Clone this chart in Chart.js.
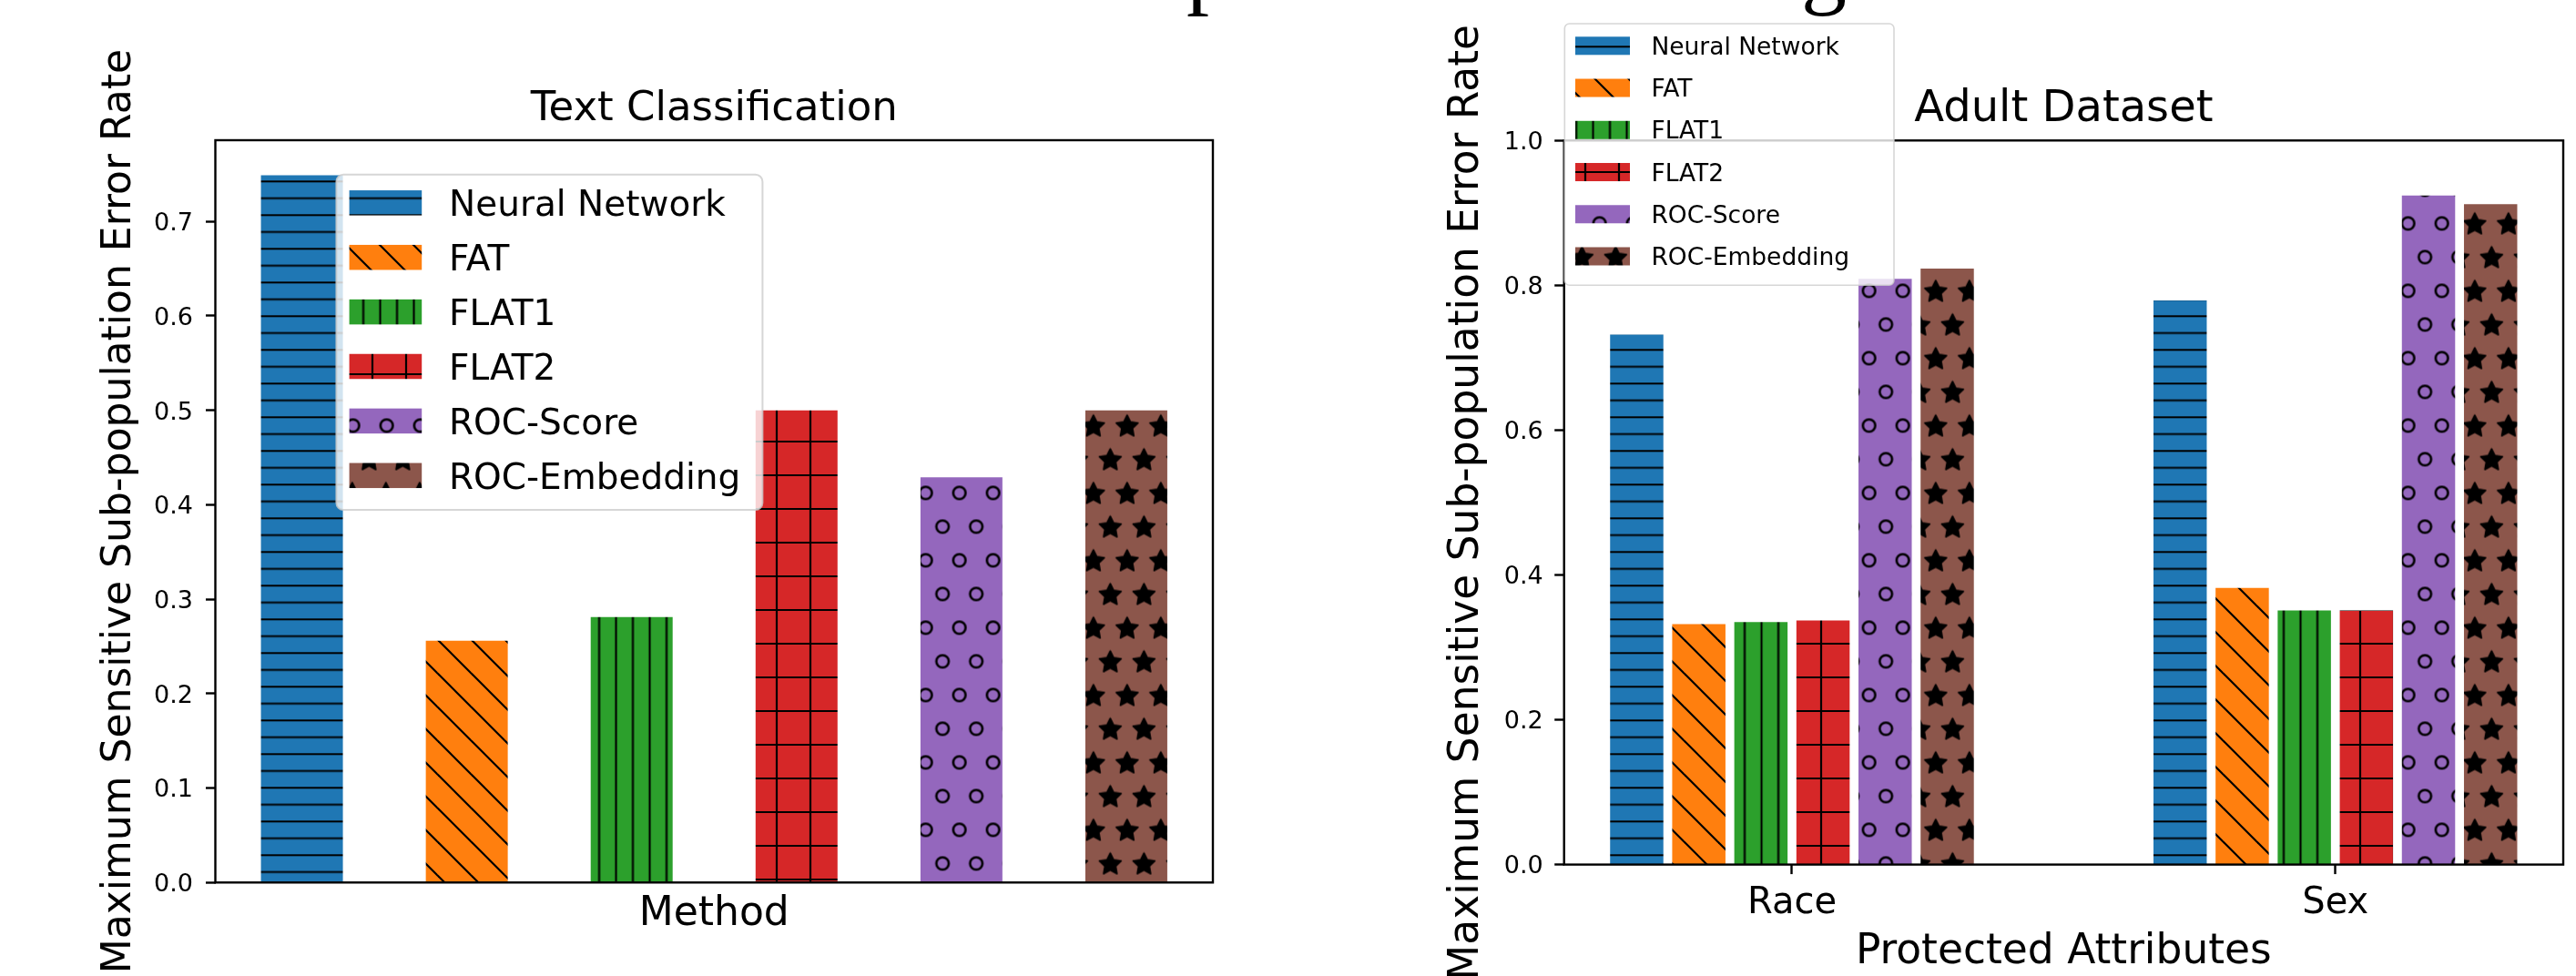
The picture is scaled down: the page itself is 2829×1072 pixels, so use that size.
<!DOCTYPE html>
<html><head><meta charset="utf-8">
<script src="https://cdn.jsdelivr.net/npm/chart.js@4.4.1/dist/chart.umd.min.js"></script>
<style>
html,body{margin:0;padding:0;background:#fff;width:2829px;height:1072px;overflow:hidden;position:relative;}
#c1{position:absolute;left:0;top:0;}
#c2{position:absolute;left:1420px;top:0;}
.cap{position:absolute;font-family:'Liberation Serif',serif;font-size:100px;line-height:100px;color:#000;top:-86px;}
</style></head><body>
<div class="cap" style="left:1303px">p</div>
<div class="cap" style="left:1978px">g</div>
<canvas id="c1" width="1420" height="1072"></canvas>
<canvas id="c2" width="1409" height="1072"></canvas>
<script>
// ---------- data ----------
const methods = ['Neural Network', 'FAT', 'FLAT1', 'FLAT2', 'ROC-Score', 'ROC-Embedding'];
const textErrorRates = [0.749, 0.256, 0.281, 0.500, 0.429, 0.500];
const attributes = ['Race', 'Sex'];
const adultRace = [0.732, 0.332, 0.335, 0.337, 0.809, 0.823];
const adultSex  = [0.779, 0.382, 0.351, 0.351, 0.924, 0.912];
const textYTicks = [0.0, 0.1, 0.2, 0.3, 0.4, 0.5, 0.6, 0.7];
const adultYTicks = [0.0, 0.2, 0.4, 0.6, 0.8, 1.0];

// ---------- styles ----------
const barColors = ['#1f77b4', '#ff7f0e', '#2ca02c', '#d62728', '#9467bd', '#8c564b'];
const hatchStyles = ['-', '\\', '|', '+', 'o', '*'];
const hatchPhase = {'-': [0, 14.3], '\\': [0, 0], '|': [10.5, 0], '+': [2, 4], 'o': [17.6, 23.4], '*': [16.8, 24.5]};

Chart.defaults.font.family = "'DejaVu Sans'";
Chart.defaults.color = '#000';

// distance from the 'middle' text line down to the alphabetic baseline
const mctx = document.createElement('canvas').getContext('2d');
function midToBase(size) {
  mctx.font = size + "px 'DejaVu Sans'";
  mctx.textBaseline = 'middle';
  return mctx.measureText('H').actualBoundingBoxDescent;
}
const CAP = 0.729;

function starPath(t, cx, cy, R, r) {
  t.beginPath();
  for (let k = 0; k < 10; k++) {
    const a = -Math.PI / 2 + k * Math.PI / 5;
    const rr = k % 2 === 0 ? R : r;
    const px = cx + rr * Math.cos(a), py = cy + rr * Math.sin(a);
    if (k === 0) t.moveTo(px, py); else t.lineTo(px, py);
  }
  t.closePath();
}

function makePattern(ctx, color, hatch, canvasOffsetX) {
  const T = 37;
  const w = T, h = (hatch === 'o' || hatch === '*') ? 2 * T : T;
  const tile = document.createElement('canvas');
  tile.width = w; tile.height = h;
  const t = tile.getContext('2d');
  t.fillStyle = color; t.fillRect(0, 0, w, h);
  t.strokeStyle = '#000'; t.fillStyle = '#000'; t.lineWidth = 2.2;
  const line = (x1, y1, x2, y2) => { t.beginPath(); t.moveTo(x1, y1); t.lineTo(x2, y2); t.stroke(); };
  if (hatch === '-') { [0, 18.5, 37].forEach(y => line(0, y, w, y)); }
  if (hatch === '|') { [0, 18.5, 37].forEach(x => line(x, 0, x, h)); }
  if (hatch === '+') { [0, 37].forEach(v => { line(0, v, w, v); line(v, 0, v, h); }); }
  if (hatch === '\\') { [-1, 0, 1].forEach(k => line(k * T - 3, -3, k * T + T + 3, T + 3)); }
  const centers = [[0, 0], [T, 0], [0, 2 * T], [T, 2 * T], [T / 2, T]];
  if (hatch === 'o') {
    t.lineWidth = 2.6;
    centers.forEach(([cx, cy]) => { t.beginPath(); t.arc(cx, cy, 6.8, 0, Math.PI * 2); t.stroke(); });
  }
  if (hatch === '*') {
    t.lineWidth = 1.6; t.lineJoin = 'round';
    centers.forEach(([cx, cy]) => { starPath(t, cx, cy, 12.6, 6.3); t.fill(); t.stroke(); });
  }
  const p = ctx.createPattern(tile, 'repeat');
  const ph = hatchPhase[hatch];
  p.setTransform(new DOMMatrix([1, 0, 0, 1, ph[0] - canvasOffsetX, ph[1]]));
  return p;
}

const framePlugin = {
  id: 'axesFrame',
  afterDatasetsDraw(chart) {
    const {ctx, chartArea: a} = chart;
    ctx.save();
    ctx.strokeStyle = '#000'; ctx.lineWidth = 2.4;
    ctx.strokeRect(a.left, a.top, a.right - a.left, a.bottom - a.top);
    ctx.restore();
  }
};

const legendPlugin = {
  id: 'hatchLegend',
  afterDraw(chart, args, o) {
    const ctx = chart.ctx;
    ctx.save();
    ctx.beginPath();
    ctx.roundRect(o.x, o.y, o.w, o.h, o.r);
    ctx.fillStyle = 'rgba(255,255,255,0.8)'; ctx.fill();
    ctx.lineWidth = o.lw; ctx.strokeStyle = 'rgba(204,204,204,0.8)'; ctx.stroke();
    ctx.font = o.fs + "px 'DejaVu Sans'";
    ctx.textBaseline = 'alphabetic'; ctx.textAlign = 'left';
    chart.data.datasets.forEach((ds, i) => {
      const cy = o.firstY + i * o.stepY;
      ctx.fillStyle = ds.backgroundColor;
      ctx.fillRect(o.hx, cy - o.hh / 2, o.hw, o.hh);
      ctx.fillStyle = '#000';
      ctx.fillText(ds.label, o.tx, cy + CAP * o.fs / 2);
    });
    ctx.restore();
  }
};

// ---------- left chart: Text Classification ----------
const L = {
  titleTop: 131.9 - midToBase(45) - 27,
  yTitlePad: 142.8 - midToBase(44) - 26.4,
  xTitlePad: 1072 - (1015.8 - midToBase(44)) - 26.4,
  tickOff: CAP * 27 / 2 - midToBase(27)
};
const ctx1 = document.getElementById('c1').getContext('2d');
const pats1 = hatchStyles.map((hs, i) => makePattern(ctx1, barColors[i], hs, 0));
new Chart(ctx1, {
  type: 'bar',
  data: {
    datasets: methods.map((m, i) => ({
      label: m,
      data: [{x: i, y: textErrorRates[i]}],
      backgroundColor: pats1[i],
      borderWidth: 0,
      grouped: false,
      categoryPercentage: 1.0,
      barPercentage: 0.497
    }))
  },
  options: {
    responsive: false, animation: false, events: [],
    layout: {padding: {left: 0, right: 88, top: 0, bottom: 0}},
    plugins: {
      legend: {display: false}, tooltip: {enabled: false},
      title: {display: true, fullSize: false, text: 'Text Classification', color: '#000',
              font: {size: 45, weight: 'normal'}, padding: {top: L.titleTop, bottom: 154 - L.titleTop - 54}},
      hatchLegend: {x: 369.4, y: 191.7, w: 468, h: 368.3, r: 7.8, lw: 2,
                    hx: 383.6, hw: 79.6, hh: 27.5, firstY: 222.8, stepY: 59.9, tx: 493, fs: 39}
    },
    scales: {
      x: {
        type: 'linear', min: -0.525, max: 5.525, offset: false,
        afterBuildTicks: ax => { ax.ticks = methods.map((_, i) => ({value: i})); },
        ticks: {display: false},
        grid: {display: false, offset: false},
        border: {display: false},
        title: {display: true, text: 'Method', color: '#000', font: {size: 44}, padding: {top: 0, bottom: L.xTitlePad}},
        afterFit: ax => { ax.height = 102.7; }
      },
      y: {
        type: 'linear', min: 0, max: 0.786,
        afterBuildTicks: ax => { ax.ticks = textYTicks.map(v => ({value: v})); },
        ticks: {callback: v => Number(v).toFixed(1), font: {size: 27}, color: '#000', padding: 14, labelOffset: L.tickOff},
        grid: {drawOnChartArea: false, drawTicks: true, tickLength: 10.5, tickWidth: 2.4, tickColor: '#000'},
        border: {display: false},
        title: {display: true, text: 'Maximum Sensitive Sub-population Error Rate', color: '#000',
                font: {size: 44}, padding: {top: L.yTitlePad, bottom: 0}},
        afterFit: ax => { ax.width = 236.5; }
      }
    }
  },
  plugins: [framePlugin, legendPlugin]
});

// ---------- right chart: Adult Dataset ----------
const R = {
  titleTop: 132.5 - midToBase(48) - 28.8,
  yTitlePad: 203 - midToBase(45.5) - 27.3,
  xTitlePad: 1072 - (1057.5 - midToBase(45.5)) - 27.3,
  xTickPad: (1002.6 - midToBase(40)) - 24 - 949.6 - 10.5,
  tickOff: CAP * 27 / 2 - midToBase(27)
};
const ctx2 = document.getElementById('c2').getContext('2d');
const pats2 = hatchStyles.map((hs, i) => makePattern(ctx2, barColors[i], hs, 1420));
new Chart(ctx2, {
  type: 'bar',
  data: {
    datasets: methods.map((m, i) => ({
      label: m,
      data: [{x: 0, y: adultRace[i]}, {x: 1, y: adultSex[i]}],
      backgroundColor: pats2[i],
      borderWidth: 0,
      categoryPercentage: 0.6857,
      barPercentage: 0.8578
    }))
  },
  options: {
    responsive: false, animation: false, events: [],
    layout: {padding: {left: 0, right: 14, top: 0, bottom: 0}},
    plugins: {
      legend: {display: false}, tooltip: {enabled: false},
      title: {display: true, fullSize: false, text: 'Adult Dataset', color: '#000',
              font: {size: 48, weight: 'normal'}, padding: {top: R.titleTop, bottom: 154.3 - R.titleTop - 57.6}},
      hatchLegend: {x: 298.3, y: 26, w: 361.7, h: 287.3, r: 5.3, lw: 1.6,
                    hx: 310, hw: 60, hh: 20, firstY: 50.3, stepY: 46.24, tx: 393.4, fs: 26.5}
    },
    scales: {
      x: {
        type: 'linear', min: -0.4194, max: 1.4194, offset: false,
        afterBuildTicks: ax => { ax.ticks = attributes.map((_, i) => ({value: i})); },
        ticks: {callback: v => attributes[v] ?? '', font: {size: 40}, color: '#000', padding: R.xTickPad, maxRotation: 0, autoSkip: false},
        grid: {drawOnChartArea: false, drawTicks: true, tickLength: 10.5, tickWidth: 2.4, tickColor: '#000', offset: false},
        border: {display: false},
        title: {display: true, text: 'Protected Attributes', color: '#000', font: {size: 45.5}, padding: {top: 0, bottom: R.xTitlePad}},
        afterFit: ax => { ax.height = 122.4; }
      },
      y: {
        type: 'linear', min: 0, max: 1.0,
        afterBuildTicks: ax => { ax.ticks = adultYTicks.map(v => ({value: v})); },
        ticks: {callback: v => Number(v).toFixed(1), font: {size: 27}, color: '#000', padding: 12.5, labelOffset: R.tickOff},
        grid: {drawOnChartArea: false, drawTicks: true, tickLength: 10.5, tickWidth: 2.4, tickColor: '#000'},
        border: {display: false},
        title: {display: true, text: 'Maximum Sensitive Sub-population Error Rate', color: '#000',
                font: {size: 45.5}, padding: {top: R.yTitlePad, bottom: 0}},
        afterFit: ax => { ax.width = 297.7; }
      }
    }
  },
  plugins: [framePlugin, legendPlugin]
});
</script>
</body></html>
